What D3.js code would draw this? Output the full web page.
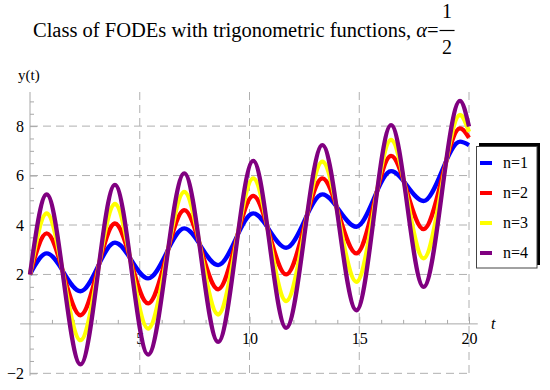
<!DOCTYPE html>
<html><head><meta charset="utf-8">
<script src="https://cdn.jsdelivr.net/npm/d3@7"></script>
<style>body{margin:0;background:#fff}text{font-family:"Liberation Serif","DejaVu Serif",serif}</style>
</head><body><svg id="c" width="550" height="390"></svg>
<script>
// extrema times and values for each series
const tExt = [0, 0.76, 2.3, 3.87, 5.38, 7.03, 8.57, 10.17, 11.67, 13.32, 14.87, 16.45, 17.93, 19.59, 20];
const yN1 = [2, 2.85, 1.32, 3.29, 1.84, 3.86, 2.38, 4.47, 3.08, 5.24, 3.93, 6.18, 4.97, 7.37, 7.23];
const yN2 = [2, 3.66, 0.35, 4.06, 0.83, 4.60, 1.40, 5.18, 2.00, 5.89, 2.85, 6.80, 3.83, 7.91, 7.53];
const yN3 = [2, 4.47, -0.66, 4.85, -0.19, 5.34, 0.38, 5.89, 0.92, 6.56, 1.70, 7.44, 2.65, 8.45, 7.77];
const yN4 = [2, 5.24, -1.64, 5.62, -1.24, 6.09, -0.73, 6.59, -0.16, 7.23, 0.55, 8.04, 1.50, 9.02, 7.98];
const seriesNames = ["n=1", "n=2", "n=3", "n=4"];
const seriesColors = ["#0000ff", "#ff0000", "#ffff00", "#800080"];
const xMajor = [5, 10, 15, 20];
const xMinor = [1,2,3,4,6,7,8,9,11,12,13,14,16,17,18,19];
const yMajor = [-2, 2, 4, 6, 8];
const yMinor = [-1.5,-1,-0.5,0.5,1,1.5,2.5,3,3.5,4.5,5,5.5,6.5,7,7.5,8.5,9];

const svg = d3.select("#c");
const x = d3.scaleLinear([0, 20], [30, 469]);
const y = d3.scaleLinear([-2.1, 9.38], [375.8, 92]);
const axisColor = "#a8a8a8";

// grid
const grid = svg.append("g").attr("stroke", "#b0b0b0").attr("stroke-dasharray", "8,5").attr("stroke-width", 1);
grid.selectAll(".gv").data(xMajor).join("line")
  .attr("x1", d => x(d)).attr("x2", d => x(d)).attr("y1", y.range()[1]).attr("y2", y.range()[0]);
grid.selectAll(".gh").data(yMajor).join("line")
  .attr("y1", d => y(d)).attr("y2", d => y(d)).attr("x1", x(0)).attr("x2", x(20));

// axes lines
svg.append("line").attr("x1", x(-0.45)).attr("x2", x(20.4)).attr("y1", y(0)).attr("y2", y(0)).attr("stroke", axisColor);
svg.append("line").attr("x1", x(0)).attr("x2", x(0)).attr("y1", y.range()[1]).attr("y2", y.range()[0]).attr("stroke", axisColor);

function styleAxis(g) {
  g.select(".domain").remove();
  g.selectAll(".tick line").attr("stroke", axisColor);
  g.selectAll("text").attr("fill", "#000").style("font-family", '"Liberation Serif",serif').style("font-size", "16px");
}
svg.append("g").attr("transform", `translate(0,${y(0)})`)
  .call(d3.axisBottom(x).tickValues(xMajor).tickSize(-7).tickPadding(9).tickFormat(d3.format("d"))).call(styleAxis);
svg.append("g").attr("transform", `translate(0,${y(0)})`)
  .call(d3.axisBottom(x).tickValues(xMinor).tickSize(-4).tickFormat("")).call(styleAxis);
svg.append("g").attr("transform", `translate(${x(0)},0)`)
  .call(d3.axisLeft(y).tickValues(yMajor).tickSize(-7).tickPadding(6).tickFormat(d => d < 0 ? "\u2212" + Math.abs(d) : d)).call(styleAxis);
svg.append("g").attr("transform", `translate(${x(0)},0)`)
  .call(d3.axisLeft(y).tickValues(yMinor).tickSize(-4).tickFormat("")).call(styleAxis);

// curves
const line = d3.line().x(d => x(d[0])).y(d => y(d[1])).curve(d3.curveMonotoneX);
const allY = [yN1, yN2, yN3, yN4];
allY.forEach((ys, i) => {
  svg.append("path").attr("d", line(tExt.map((t, j) => [t, ys[j]])))
    .attr("fill", "none").attr("stroke", seriesColors[i]).attr("stroke-width", 4.3).attr("stroke-linejoin", "round");
});

// axis labels
svg.append("text").attr("x", 18).attr("y", 80).style("font-size", "15px").text("y(t)");
svg.append("text").attr("x", 491).attr("y", 329).style("font-size", "16px").style("font-style", "italic").text("t");

// title
const title = svg.append("text").attr("x", 33).attr("y", 37).style("font-size", "20.5px");
title.append("tspan").text("Class of FODEs with trigonometric functions, ");
title.append("tspan").style("font-style", "italic").text("\u03b1");
title.append("tspan").text("=");
const tEnd = 33 + title.node().getComputedTextLength();
const fx = tEnd + 1, fw = 15;
svg.append("text").attr("x", fx + fw / 2).attr("y", 18).attr("text-anchor", "middle").style("font-size", "20px").text("1");
svg.append("line").attr("x1", fx).attr("x2", fx + fw).attr("y1", 30.5).attr("y2", 30.5).attr("stroke", "#000").attr("stroke-width", 1.2);
svg.append("text").attr("x", fx + fw / 2).attr("y", 54).attr("text-anchor", "middle").style("font-size", "20px").text("2");

// legend
const lg = svg.append("g");
lg.append("rect").attr("x", 479).attr("y", 143).attr("width", 61).attr("height", 122).attr("fill", "#000");
lg.append("rect").attr("x", 476.5).attr("y", 146.5).attr("width", 60.5).attr("height", 121.5).attr("fill", "#fff").attr("stroke", "#444");
seriesNames.forEach((nm, i) => {
  const yy = 163 + i * 30;
  lg.append("line").attr("x1", 480).attr("x2", 492).attr("y1", yy).attr("y2", yy).attr("stroke", seriesColors[i]).attr("stroke-width", 4);
  lg.append("text").attr("x", 503).attr("y", yy + 5).style("font-size", "16px").text(nm);
});
</script></body></html>
